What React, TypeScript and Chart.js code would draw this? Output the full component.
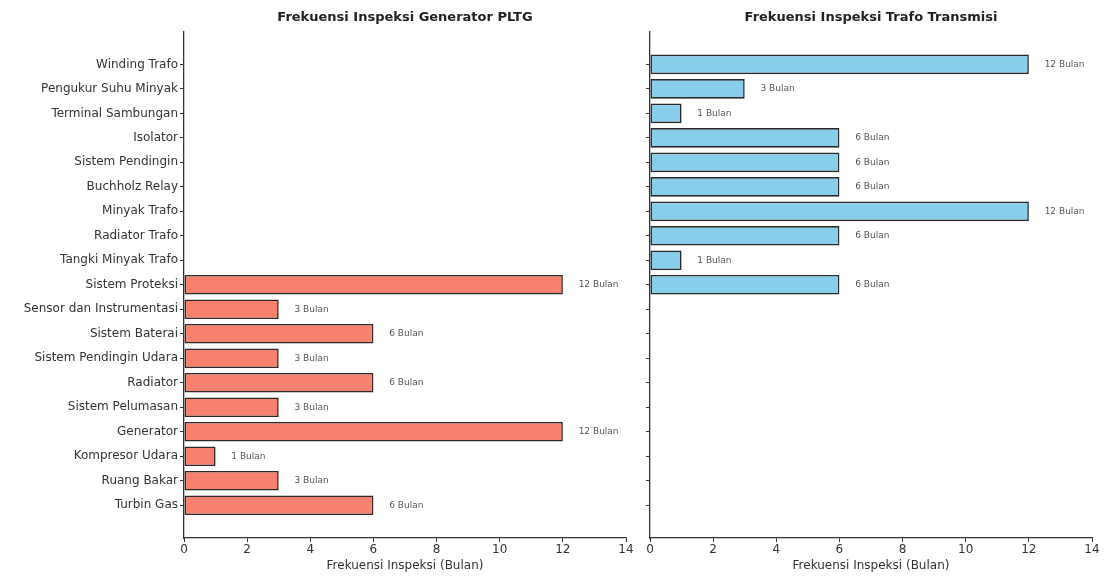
import React, { useEffect, useRef } from "react";
import { Chart, registerables } from "chart.js";

Chart.register(...registerables);

const categories = [
  "Winding Trafo",
  "Pengukur Suhu Minyak",
  "Terminal Sambungan",
  "Isolator",
  "Sistem Pendingin",
  "Buchholz Relay",
  "Minyak Trafo",
  "Radiator Trafo",
  "Tangki Minyak Trafo",
  "Sistem Proteksi",
  "Sensor dan Instrumentasi",
  "Sistem Baterai",
  "Sistem Pendingin Udara",
  "Radiator",
  "Sistem Pelumasan",
  "Generator",
  "Kompresor Udara",
  "Ruang Bakar",
  "Turbin Gas",
];

const generatorValues: (number | null)[] = [
  null, null, null, null, null, null, null, null, null,
  12, 3, 6, 3, 6, 3, 12, 1, 3, 6,
];

const trafoValues: (number | null)[] = [
  12, 3, 1, 6, 6, 6, 12, 6, 1, 6,
  null, null, null, null, null, null, null, null, null,
];

const xTickValues = [0, 2, 4, 6, 8, 10, 12, 14];
const unitLabel = "Bulan";
const titleGenerator = "Frekuensi Inspeksi Generator PLTG";
const titleTrafo = "Frekuensi Inspeksi Trafo Transmisi";
const xAxisTitle = "Frekuensi Inspeksi (Bulan)";

const FONT = '"DejaVu Sans", sans-serif';
const AXIS_COLOR = "#333333";

const valueLabelPlugin = {
  id: "valueLabels",
  afterDatasetsDraw(chart: any) {
    const ctx = chart.ctx;
    const xs = chart.scales.x;
    chart.data.datasets.forEach((ds: any, di: number) => {
      const meta = chart.getDatasetMeta(di);
      meta.data.forEach((el: any, i: number) => {
        const v = ds.data[i].x;
        ctx.save();
        ctx.font = `9px ${FONT}`;
        ctx.fillStyle = "#555555";
        ctx.textAlign = "left";
        ctx.textBaseline = "middle";
        ctx.fillText(`${v} ${unitLabel}`, xs.getPixelForValue(v + 0.5), el.y);
        ctx.restore();
      });
    });
  },
};

function buildConfig(
  values: (number | null)[],
  title: string,
  fill: string,
  showLabels: boolean,
  yWidth: number,
  rightPad: number
): any {
  const points = values
    .map((v, i) => (v === null ? null : { x: v, y: i }))
    .filter((p) => p !== null);
  return {
    type: "bar",
    data: {
      datasets: [
        {
          data: points,
          backgroundColor: fill,
          borderColor: "#2a2a2a",
          borderWidth: 1.6,
          borderSkipped: false,
          barPercentage: 1,
          categoryPercentage: 0.8,
        },
      ],
    },
    plugins: [valueLabelPlugin],
    options: {
      indexAxis: "y",
      responsive: false,
      animation: false,
      devicePixelRatio: 1,
      layout: { padding: { left: 0, right: rightPad, top: 0, bottom: 0 } },
      plugins: {
        legend: { display: false },
        tooltip: { enabled: false },
        title: {
          display: true,
          text: title,
          fullSize: false,
          color: "#222222",
          font: { family: FONT, size: 13, weight: "bold" },
          padding: { top: 10, bottom: 6 },
        },
      },
      scales: {
        x: {
          type: "linear",
          position: "bottom",
          min: 0,
          max: 14,
          afterBuildTicks: (scale: any) => {
            scale.ticks = xTickValues.map((v) => ({ value: v }));
          },
          afterFit: (scale: any) => {
            scale.height = 41;
          },
          ticks: {
            color: AXIS_COLOR,
            font: { family: FONT, size: 12 },
            padding: 1,
            maxRotation: 0,
          },
          grid: {
            display: true,
            drawOnChartArea: false,
            drawTicks: true,
            tickLength: 4,
            color: AXIS_COLOR,
          },
          border: { display: true, color: AXIS_COLOR, width: 1.3 },
          title: {
            display: true,
            text: xAxisTitle,
            color: AXIS_COLOR,
            font: { family: FONT, size: 12 },
            padding: { top: 0, bottom: 6 },
          },
        },
        y: {
          type: "linear",
          position: "left",
          reverse: true,
          offset: false,
          min: -1.34,
          max: categories.length - 1 + 1.34,
          afterBuildTicks: (scale: any) => {
            scale.ticks = categories.map((_, i) => ({ value: i }));
          },
          afterFit: (scale: any) => {
            scale.width = yWidth;
          },
          ticks: {
            display: showLabels,
            autoSkip: false,
            color: AXIS_COLOR,
            font: { family: FONT, size: 12 },
            padding: 2,
            callback: (v: number) => categories[v] ?? "",
          },
          grid: {
            display: true,
            offset: false,
            drawOnChartArea: false,
            drawTicks: true,
            tickLength: 4,
            color: AXIS_COLOR,
          },
          border: { display: true, color: AXIS_COLOR, width: 1.3 },
        },
      },
    },
  };
}

export default function App() {
  const leftRef = useRef<HTMLCanvasElement | null>(null);
  const rightRef = useRef<HTMLCanvasElement | null>(null);

  useEffect(() => {
    const left = new Chart(
      leftRef.current as HTMLCanvasElement,
      buildConfig(generatorValues, titleGenerator, "#F7806F", true, 184, 14)
    );
    const right = new Chart(
      rightRef.current as HTMLCanvasElement,
      buildConfig(trafoValues, titleTrafo, "#87CEEB", false, 10, 13)
    );
    return () => {
      left.destroy();
      right.destroy();
    };
  }, []);

  return (
    <div
      style={{
        position: "absolute",
        left: 0,
        top: 0,
        width: 1105,
        height: 579,
        background: "#ffffff",
      }}
    >
      <canvas
        ref={leftRef}
        width={640}
        height={579}
        style={{ position: "absolute", left: 0, top: 0, display: "block" }}
      />
      <canvas
        ref={rightRef}
        width={465}
        height={579}
        style={{ position: "absolute", left: 640, top: 0, display: "block" }}
      />
    </div>
  );
}
